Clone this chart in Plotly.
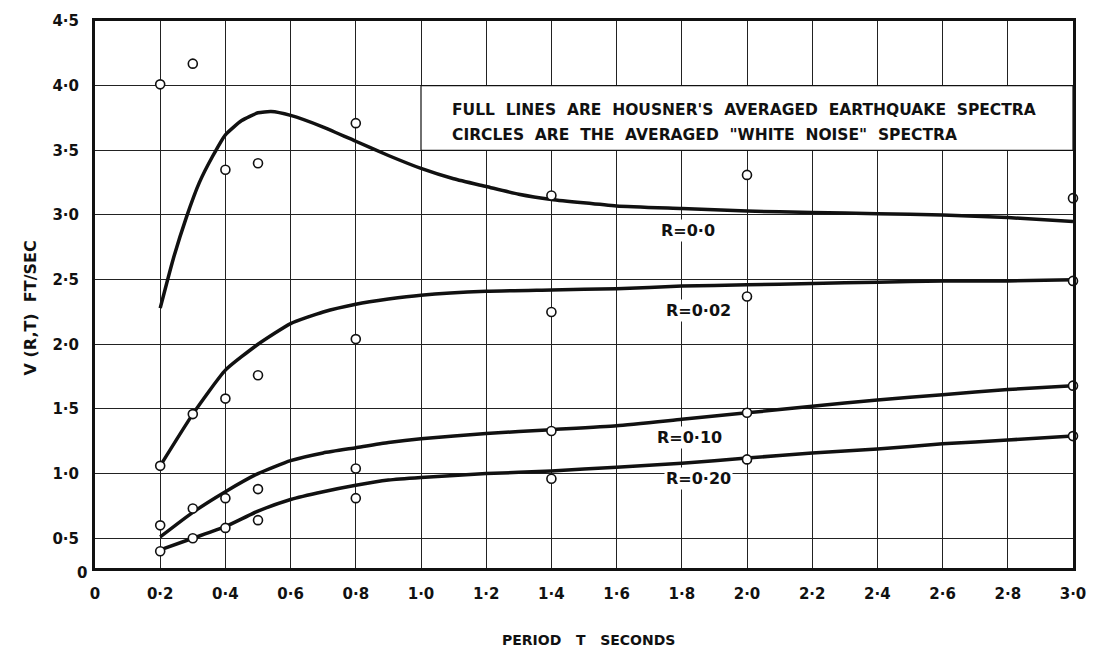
import plotly.graph_objects as go

# ---- data ----
circle_T = [0.2, 0.3, 0.4, 0.5, 0.8, 1.4, 2.0, 3.0]
circ_R000 = [4.01, 4.17, 3.35, 3.40, 3.71, 3.15, 3.31, 3.13]
circ_R002 = [1.06, 1.46, 1.58, 1.76, 2.04, 2.25, 2.37, 2.49]
circ_R010 = [0.60, 0.73, 0.81, 0.88, 1.04, 1.33, 1.47, 1.68]
circ_R020 = [0.40, 0.50, 0.58, 0.64, 0.81, 0.96, 1.11, 1.29]

line_T_R000 = [0.2, 0.24, 0.28, 0.32, 0.36, 0.40, 0.45, 0.50, 0.54, 0.60, 0.70, 0.80, 0.90,
               1.0, 1.1, 1.2, 1.3, 1.4, 1.6, 1.8, 2.0, 2.2, 2.4, 2.6, 2.8, 3.0]
line_R000 = [2.28, 2.66, 2.98, 3.25, 3.45, 3.62, 3.73, 3.79, 3.80, 3.77, 3.68, 3.57, 3.46,
             3.36, 3.28, 3.22, 3.16, 3.12, 3.07, 3.05, 3.03, 3.02, 3.01, 3.00, 2.98, 2.95]

line_T = [0.2, 0.3, 0.4, 0.5, 0.6, 0.7, 0.8, 0.9, 1.0, 1.2, 1.4, 1.6, 1.8, 2.0, 2.2, 2.4, 2.6, 2.8, 3.0]
line_R002 = [1.06, 1.46, 1.80, 2.00, 2.16, 2.25, 2.31, 2.35, 2.38, 2.41, 2.42, 2.43, 2.45, 2.46, 2.47, 2.48, 2.49, 2.49, 2.50]
line_R010 = [0.51, 0.70, 0.86, 1.00, 1.10, 1.16, 1.20, 1.24, 1.27, 1.31, 1.34, 1.37, 1.42, 1.47, 1.52, 1.57, 1.61, 1.65, 1.68]
line_R020 = [0.41, 0.50, 0.59, 0.71, 0.80, 0.86, 0.91, 0.95, 0.97, 1.00, 1.02, 1.05, 1.08, 1.12, 1.16, 1.19, 1.23, 1.26, 1.29]

curve_labels = ["R=0·0", "R=0·02", "R=0·10", "R=0·20"]
label_T = [1.82, 1.85, 1.825, 1.85]
label_V = [2.88, 2.26, 1.28, 0.96]

x_tickvals = [0, 0.2, 0.4, 0.6, 0.8, 1.0, 1.2, 1.4, 1.6, 1.8, 2.0, 2.2, 2.4, 2.6, 2.8, 3.0]
x_ticktext = ["0", "0·2", "0·4", "0·6", "0·8", "1·0", "1·2", "1·4", "1·6", "1·8",
              "2·0", "2·2", "2·4", "2·6", "2·8", "3·0"]
y_tickvals = [0.5, 1.0, 1.5, 2.0, 2.5, 3.0, 3.5, 4.0, 4.5]
y_ticktext = ["0·5", "1·0", "1·5", "2·0", "2·5", "3·0", "3·5", "4·0", "4·5"]

note_lines = ["FULL  LINES  ARE  HOUSNER'S  AVERAGED  EARTHQUAKE  SPECTRA",
              "CIRCLES  ARE  THE  AVERAGED  \"WHITE  NOISE\"  SPECTRA"]

FONT = "DejaVu Sans"
INK = "#111111"

fig = go.Figure()

for xs, ys in [(line_T_R000, line_R000), (line_T, line_R002), (line_T, line_R010), (line_T, line_R020)]:
    fig.add_trace(go.Scatter(x=xs, y=ys, mode="lines",
                             line=dict(color=INK, width=3.5, shape="spline", smoothing=0.5),
                             showlegend=False, hoverinfo="skip"))

for ys in [circ_R000, circ_R002, circ_R010, circ_R020]:
    fig.add_trace(go.Scatter(x=circle_T, y=ys, mode="markers",
                             marker=dict(symbol="circle", size=9, color="white",
                                         line=dict(color=INK, width=1.6)),
                             cliponaxis=False, showlegend=False))

# note box
fig.add_shape(type="rect", xref="x", yref="y", x0=1.0, x1=3.0, y0=3.5, y1=4.0,
              fillcolor="white", line=dict(color=INK, width=1.2), layer="between")
fig.add_annotation(x=1.09, y=3.81, xref="x", yref="y", text=note_lines[0], showarrow=False,
                   xanchor="left", yanchor="middle", font=dict(family=FONT, size=15.5, color=INK, weight="bold"))
fig.add_annotation(x=1.09, y=3.62, xref="x", yref="y", text=note_lines[1], showarrow=False,
                   xanchor="left", yanchor="middle", font=dict(family=FONT, size=15.5, color=INK, weight="bold"))

for txt, lx, ly in zip(curve_labels, label_T, label_V):
    fig.add_annotation(x=lx, y=ly, xref="x", yref="y", text=txt, showarrow=False,
                       bgcolor="white", borderpad=1,
                       font=dict(family=FONT, size=16, color=INK, weight="bold"))

# axis titles and origin label
fig.add_annotation(x=0, y=0.5, xref="paper", yref="paper", text="V (R,T)  FT/SEC",
                   textangle=-90, showarrow=False, xanchor="center", yanchor="middle", xshift=-65, yshift=-14,
                   font=dict(family=FONT, size=16, color=INK, weight="bold"))
fig.add_annotation(x=0.5, y=0, xref="paper", yref="paper", text="PERIOD   T   SECONDS",
                   showarrow=False, xanchor="center", yanchor="middle", yshift=-72, xshift=4,
                   font=dict(family=FONT, size=14, color=INK, weight="bold"))
fig.add_annotation(x=0, y=0.27, xref="paper", yref="y", text="0", showarrow=False,
                   xanchor="right", yanchor="middle", xshift=-6, yshift=-5,
                   font=dict(family=FONT, size=15, color=INK, weight="bold"))

fig.update_xaxes(range=[0, 3.0], tickvals=x_tickvals, ticktext=x_ticktext,
                 showgrid=True, gridcolor="#222222", gridwidth=1,
                 showline=True, linecolor=INK, linewidth=3, mirror=True,
                 ticks="", ticklabelstandoff=10, zeroline=False,
                 tickfont=dict(family=FONT, size=15, color=INK, weight="bold"))
fig.update_yaxes(range=[0.27, 4.5], tickvals=y_tickvals, ticktext=y_ticktext,
                 showgrid=True, gridcolor="#222222", gridwidth=1,
                 showline=True, linecolor=INK, linewidth=3, mirror=True,
                 ticks="", ticklabelstandoff=10, zeroline=False,
                 tickfont=dict(family=FONT, size=15, color=INK, weight="bold"))

fig.update_layout(width=1098, height=659, margin=dict(l=95, r=25, t=12, b=91),
                  paper_bgcolor="white", plot_bgcolor="white", showlegend=False)

fig.write_html("out.html")
